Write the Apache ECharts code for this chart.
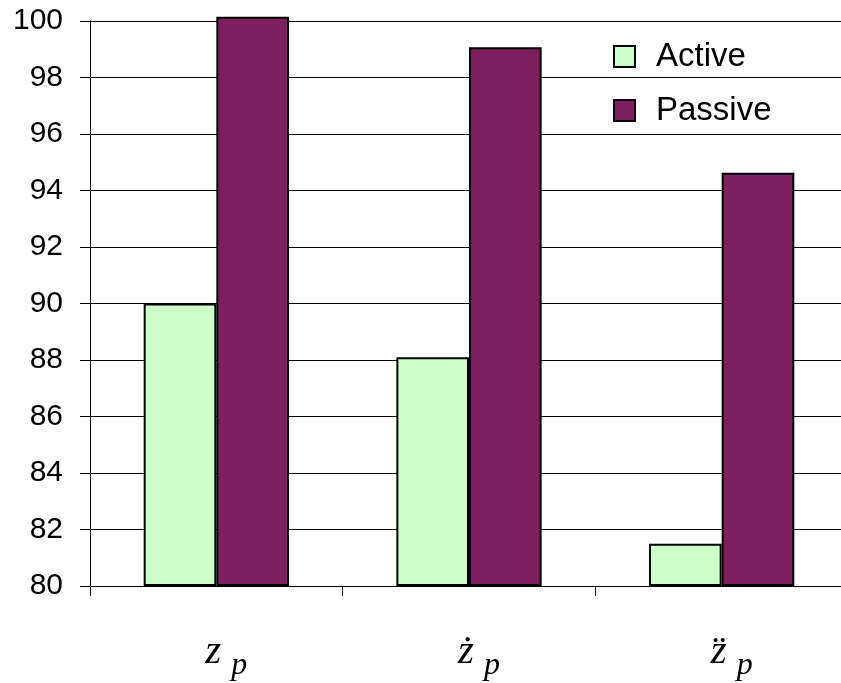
<!DOCTYPE html>
<html><head><meta charset="utf-8">
<script src="https://cdn.jsdelivr.net/npm/echarts@6/dist/echarts.min.js"></script>
<style>html,body{margin:0;padding:0;background:#fff}#c{width:841px;height:683px}</style>
</head><body><div id="c"></div>
<script>
var categories = ['z', 'ż', 'z\u0308'];
var activeValues = [90.0, 88.1, 81.5];
var passiveValues = [100.15, 99.07, 94.63];
var yTicks = [80, 82, 84, 86, 88, 90, 92, 94, 96, 98, 100];
var axisMin = 80;

var baseValues = categories.map(function () { return axisMin; });
var activeRise = activeValues.map(function (v) { return v - axisMin; });
var passiveRise = passiveValues.map(function (v) { return v - axisMin; });

var chart = echarts.init(document.getElementById('c'));
chart.setOption({
  animation: false,
  backgroundColor: '#fff',
  grid: { left: 90, width: 758, top: 21, bottom: 97, containLabel: false, outerBoundsMode: 'none' },
  legend: {
    orient: 'vertical', left: 608, top: 35, itemWidth: 21, itemHeight: 21, itemGap: 21,
    icon: 'rect',
    textStyle: { fontFamily: 'Liberation Sans, Arial, sans-serif', fontSize: 33, color: '#000', lineHeight: 33, padding: [0, 0, 0, 16] },
    data: ['Active', 'Passive']
  },
  xAxis: {
    type: 'category', data: categories,
    axisLine: { lineStyle: { color: '#000', width: 1 } },
    axisTick: { show: true, length: 10, lineStyle: { color: '#000' } },
    axisLabel: {
      margin: 44,
      formatter: function (v) { return '{z|' + v + '}{s|p}'; },
      rich: {
        z: { fontFamily: 'Liberation Serif, Times New Roman, serif', fontStyle: 'italic', fontSize: 41, lineHeight: 44, color: '#000', padding: [0, 10, 0, 20] },
        s: { fontFamily: 'Liberation Serif, Times New Roman, serif', fontStyle: 'italic', fontSize: 32, lineHeight: 44, color: '#000', padding: [28, 0, 0, 0] }
      }
    }
  },
  yAxis: {
    type: 'value', min: axisMin, max: 100, interval: 2,
    axisLine: { show: true, lineStyle: { color: '#000', width: 1 } },
    axisTick: { show: true, length: 10, lineStyle: { color: '#000' } },
    splitLine: { show: true, lineStyle: { color: '#000', width: 1 } },
    axisLabel: {
      margin: 27, fontFamily: 'Liberation Sans, Arial, sans-serif', fontSize: 30, color: '#000',
      formatter: function (v) { return yTicks.indexOf(v) >= 0 ? String(v) : ''; }
    }
  },
  series: [
    { name: 'baseA', type: 'bar', stack: 'a', data: baseValues, barGap: '0%', barCategoryGap: '42.5%', clip: false, silent: true,
      itemStyle: { color: 'rgba(0,0,0,0)', borderWidth: 0 } },
    { name: 'Active', type: 'bar', stack: 'a', data: activeRise, clip: false,
      itemStyle: { color: '#CCFFCC', borderColor: '#000', borderWidth: 2 } },
    { name: 'baseP', type: 'bar', stack: 'p', data: baseValues, clip: false, silent: true,
      itemStyle: { color: 'rgba(0,0,0,0)', borderWidth: 0 } },
    { name: 'Passive', type: 'bar', stack: 'p', data: passiveRise, clip: false,
      itemStyle: { color: '#7F1F5F', borderColor: '#000', borderWidth: 2 } }
  ]
});
</script></body></html>
